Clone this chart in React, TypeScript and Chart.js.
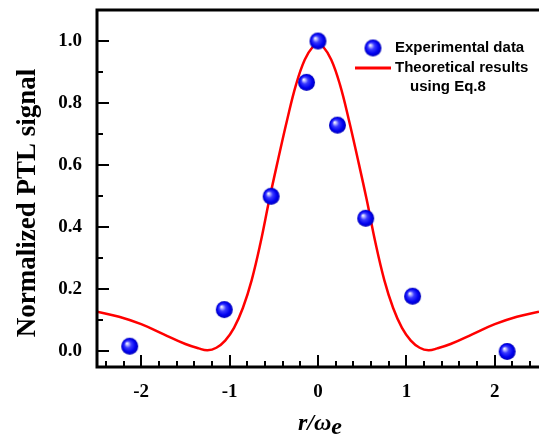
import { useEffect, useRef } from "react";
import { Chart, registerables } from "chart.js";

Chart.register(...registerables);

// Measured PTL signal versus normalized radial offset
const expX = [-2.13, -1.06, -0.53, -0.13, 0, 0.22, 0.54, 1.07, 2.14];
const expY = [0.017, 0.135, 0.5, 0.867, 1.0, 0.729, 0.429, 0.178, 0.0];

// Theoretical profile (Eq.8)
const theoryX = [
  -2.5, -2.25, -2.0, -1.75, -1.5, -1.35, -1.25, -1.15, -1.05, -0.95, -0.85, -0.75,
  -0.65, -0.55, -0.45, -0.35, -0.25, -0.15, -0.05, 0, 0.05, 0.15, 0.25, 0.35, 0.45,
  0.55, 0.65, 0.75, 0.85, 0.95, 1.05, 1.15, 1.25, 1.35, 1.5, 1.75, 2.0, 2.25, 2.5,
];
const theoryY = [
  0.128, 0.112, 0.088, 0.056, 0.024, 0.01, 0.004, 0.012, 0.035, 0.076, 0.14, 0.23,
  0.35, 0.49, 0.62, 0.745, 0.858, 0.94, 0.985, 0.99, 0.985, 0.94, 0.858, 0.745, 0.62,
  0.49, 0.35, 0.23, 0.14, 0.076, 0.035, 0.012, 0.004, 0.01, 0.024, 0.056, 0.088, 0.112, 0.128,
];

const xTickValues = [-2, -1, 0, 1, 2];
const yTickValues = [0.0, 0.2, 0.4, 0.6, 0.8, 1.0];
const xRange = [-2.5, 2.5];
const yRange = [-0.05, 1.1];

const legendLabels = ["Experimental data", "Theoretical results", "using Eq.8"];
const yTitle = "Normalized PTL signal";

const SERIF = '"Liberation Serif", "Times New Roman", serif';
const SANS = '"Liberation Sans", Arial, sans-serif';

function makeSphere(radius: number): HTMLCanvasElement {
  const size = radius * 2 + 2;
  const c = document.createElement("canvas");
  c.width = size;
  c.height = size;
  const g = c.getContext("2d")!;
  const cx = size / 2;
  const cy = size / 2;
  const grad = g.createRadialGradient(cx - radius * 0.35, cy - radius * 0.35, 0, cx, cy, radius);
  grad.addColorStop(0, "#ffffff");
  grad.addColorStop(0.12, "#d0d0ff");
  grad.addColorStop(0.4, "#3a3aff");
  grad.addColorStop(0.75, "#0000f0");
  grad.addColorStop(1, "#0000b8");
  g.fillStyle = grad;
  g.beginPath();
  g.arc(cx, cy, radius, 0, Math.PI * 2);
  g.fill();
  return c;
}

function noPadding(s: any) {
  s.paddingTop = 0;
  s.paddingBottom = 0;
  s.paddingLeft = 0;
  s.paddingRight = 0;
}

export default function App() {
  const canvasRef = useRef<HTMLCanvasElement | null>(null);

  useEffect(() => {
    const canvas = canvasRef.current;
    if (!canvas) return;
    const sphere = makeSphere(8.5);

    const frame = {
      id: "frame",
      afterDraw(chart: any) {
        const { ctx, chartArea } = chart;
        const xs = chart.scales.x;
        const ys = chart.scales.y;
        const { left, right, top, bottom } = chartArea;
        ctx.save();
        ctx.strokeStyle = "#000";
        ctx.lineCap = "butt";

        // major and minor ticks, pointing inward
        ctx.lineWidth = 2;
        ctx.beginPath();
        for (let i = -12; i <= 12; i++) {
          const v = i * 0.2;
          const px = Math.round(xs.getPixelForValue(v));
          const major = i % 5 === 0;
          ctx.moveTo(px, bottom);
          ctx.lineTo(px, bottom - (major ? 12 : 6));
        }
        for (let i = 0; i <= 10; i++) {
          const v = i * 0.1;
          const py = Math.round(ys.getPixelForValue(v));
          const major = i % 2 === 0;
          ctx.moveTo(left, py);
          ctx.lineTo(left + (major ? 12 : 6), py);
        }
        ctx.stroke();

        // axis frame
        ctx.lineWidth = 3;
        ctx.beginPath();
        ctx.moveTo(left, top);
        ctx.lineTo(right, top);
        ctx.moveTo(left, top - 1.5);
        ctx.lineTo(left, bottom + 1.5);
        ctx.moveTo(left - 1.5, bottom);
        ctx.lineTo(right, bottom);
        ctx.stroke();

        // axis titles
        ctx.fillStyle = "#000";
        ctx.save();
        ctx.translate(28, 203);
        ctx.rotate(-Math.PI / 2);
        ctx.font = `bold 27px ${SERIF}`;
        ctx.textAlign = "center";
        ctx.textBaseline = "middle";
        ctx.fillText(yTitle, 0, 0);
        ctx.restore();

        ctx.font = `italic bold 24px ${SERIF}`;
        ctx.textAlign = "left";
        ctx.textBaseline = "alphabetic";
        const main = "r/\u03c9";
        ctx.fillText(main, 298, 430);
        const w = ctx.measureText(main).width;
        ctx.fillText("e", 298 + w, 434);

        // legend
        ctx.drawImage(sphere, 373 - sphere.width / 2, 48 - sphere.height / 2);
        ctx.strokeStyle = "#ff0000";
        ctx.lineWidth = 3;
        ctx.beginPath();
        ctx.moveTo(355, 68);
        ctx.lineTo(391, 68);
        ctx.stroke();
        ctx.font = `bold 15px ${SANS}`;
        ctx.textBaseline = "middle";
        ctx.fillText(legendLabels[0], 395, 48);
        ctx.fillText(legendLabels[1], 395, 68);
        ctx.fillText(legendLabels[2], 410, 87);
        ctx.restore();
      },
    };

    const chart = new Chart(canvas, {
      type: "scatter",
      data: {
        datasets: [
          {
            label: "Theoretical results using Eq.8",
            data: theoryX.map((x, i) => ({ x, y: theoryY[i] })),
            showLine: true,
            borderColor: "#ff0000",
            borderWidth: 2.5,
            pointRadius: 0,
            tension: 0.4,
            order: 2,
          },
          {
            label: "Experimental data",
            data: expX.map((x, i) => ({ x, y: expY[i] })),
            pointStyle: sphere,
            pointRadius: 9,
            order: 1,
          },
        ],
      },
      options: {
        responsive: false,
        animation: false,
        layout: { autoPadding: false, padding: { top: 10, right: 0, left: 0, bottom: 0 } },
        plugins: { legend: { display: false }, tooltip: { enabled: false } },
        scales: {
          x: {
            type: "linear",
            min: xRange[0],
            max: xRange[1],
            grid: { display: false, drawTicks: false },
            border: { display: false },
            afterBuildTicks: (s: any) => {
              s.ticks = xTickValues.map((value) => ({ value }));
            },
            afterFit: (s: any) => {
              s.height = 70;
              noPadding(s);
            },
            ticks: {
              color: "#000",
              padding: 14,
              maxRotation: 0,
              font: { family: SERIF, size: 19, weight: "bold" },
              callback: (v: any) => String(v),
            },
          },
          y: {
            type: "linear",
            min: yRange[0],
            max: yRange[1],
            grid: { display: false, drawTicks: false },
            border: { display: false },
            afterBuildTicks: (s: any) => {
              s.ticks = yTickValues.map((value) => ({ value }));
            },
            afterFit: (s: any) => {
              s.width = 97;
              noPadding(s);
            },
            ticks: {
              color: "#000",
              padding: 15,
              font: { family: SERIF, size: 19, weight: "bold" },
              callback: (v: any) => Number(v).toFixed(1),
            },
          },
        },
      },
      plugins: [frame],
    } as any);

    return () => chart.destroy();
  }, []);

  return (
    <div style={{ position: "absolute", left: 0, top: 0, width: 539, height: 437 }}>
      <canvas ref={canvasRef} width={539} height={437} />
    </div>
  );
}
